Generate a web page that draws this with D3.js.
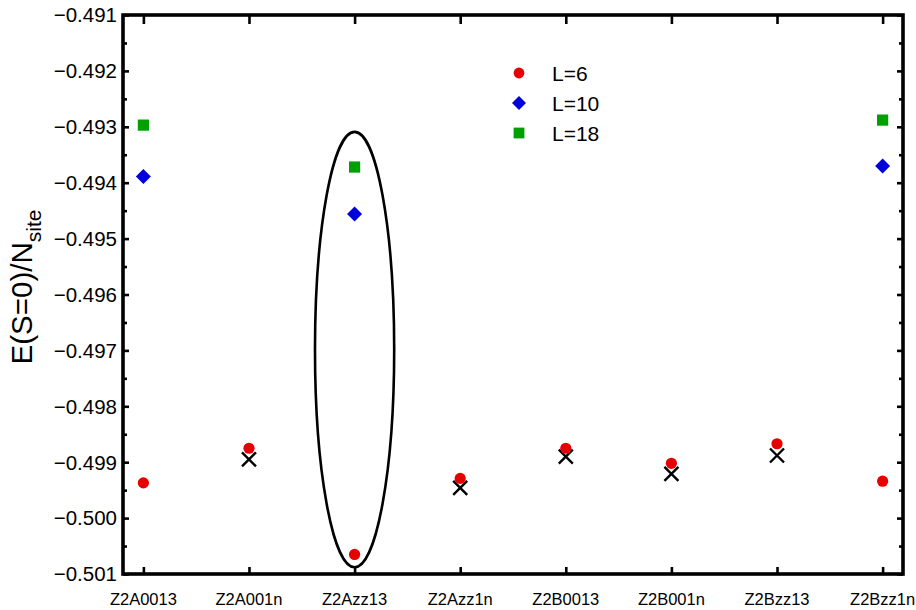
<!DOCTYPE html>
<html>
<head>
<meta charset="utf-8">
<script src="https://cdn.jsdelivr.net/npm/d3@7"></script>
<style>
  html, body { margin: 0; padding: 0; background: #fff; }
  svg { display: block; font-family: "Liberation Sans", Arial, Helvetica, sans-serif; }
</style>
</head>
<body>
<svg id="chart" width="916" height="610"></svg>
<script>
// Ground-state energy per site in the S=0 sector for each configuration
const categories = ["Z2A0013", "Z2A001n", "Z2Azz13", "Z2Azz1n", "Z2B0013", "Z2B001n", "Z2Bzz13", "Z2Bzz1n"];
const energyL6  = [-0.49937, -0.49875, -0.50065, -0.49929, -0.49875, -0.49902, -0.49867, -0.49934];
const energyL10 = [-0.49389, null, -0.49456, null, null, null, null, -0.49370];
const energyL18 = [-0.49297, null, -0.49372, null, null, null, null, -0.49288];
const energyRef = [null, -0.49895, null, -0.49946, -0.49890, -0.49921, -0.49888, null];
const yTicks = [-0.491, -0.492, -0.493, -0.494, -0.495, -0.496, -0.497, -0.498, -0.499, -0.500, -0.501];
const yMinorTicks = [-0.4915, -0.4925, -0.4935, -0.4945, -0.4955, -0.4965, -0.4975, -0.4985, -0.4995, -0.5005];
const legendLabels = ["L=6", "L=10", "L=18"];
// Highlighted configuration: vertical extent of the outline
const highlightCat = "Z2Azz13";
const highlightTop = -0.49309;
const highlightBottom = -0.50088;

const colors = { L6: "#e60000", L10: "#0000dd", L18: "#00a000", ref: "#000" };

const svg = d3.select("#chart");
const frame = { left: 123, right: 903, top: 15, bottom: 574 };

const x = d3.scalePoint().domain(categories).range([frame.left, frame.right]).padding(0.193);
const y = d3.scaleLinear().domain([-0.501, -0.491]).range([frame.bottom, frame.top]);

const fmt = v => "\u2212" + d3.format(".3f")(Math.abs(v));

// Axes with inward ticks
const gLeft = svg.append("g").attr("transform", `translate(${frame.left},0)`)
  .call(d3.axisRight(y).tickValues(yTicks).tickSize(6).tickFormat(""));
const gLeftMinor = svg.append("g").attr("transform", `translate(${frame.left},0)`)
  .call(d3.axisRight(y).tickValues(yMinorTicks).tickSize(4).tickFormat(""));
const gRight = svg.append("g").attr("transform", `translate(${frame.right},0)`)
  .call(d3.axisLeft(y).tickValues(yTicks).tickSize(6).tickFormat(""));
const gRightMinor = svg.append("g").attr("transform", `translate(${frame.right},0)`)
  .call(d3.axisLeft(y).tickValues(yMinorTicks).tickSize(4).tickFormat(""));
const gTop = svg.append("g").attr("transform", `translate(0,${frame.top})`)
  .call(d3.axisBottom(x).tickSize(9).tickFormat(""));
const gBottom = svg.append("g").attr("transform", `translate(0,${frame.bottom})`)
  .call(d3.axisTop(x).tickSize(7).tickFormat(""));

[gLeft, gLeftMinor, gRight, gRightMinor, gTop, gBottom].forEach(g => {
  g.select(".domain").remove();
  g.selectAll(".tick line").attr("stroke", "#000").attr("stroke-width", 2.6);
});

// Frame
svg.append("rect")
  .attr("x", frame.left).attr("y", frame.top)
  .attr("width", frame.right - frame.left).attr("height", frame.bottom - frame.top)
  .attr("fill", "none").attr("stroke", "#000").attr("stroke-width", 3.6);

// Y tick labels
svg.append("g").selectAll("text").data(yTicks).join("text")
  .attr("x", frame.left - 6).attr("y", d => y(d)).attr("dy", "0.36em")
  .attr("text-anchor", "end").attr("font-size", 20.5).attr("fill", "#000")
  .text(fmt);

// Category labels
svg.append("g").selectAll("text").data(categories).join("text")
  .attr("x", d => x(d)).attr("y", 604.5)
  .attr("text-anchor", "middle").attr("font-size", 16.5).attr("fill", "#000")
  .text(d => d);

// Axis title
const title = svg.append("text")
  .attr("transform", "translate(32,287) rotate(-90)")
  .attr("text-anchor", "middle").attr("font-size", 29.5).attr("fill", "#000");
title.append("tspan").text("E(S=0)/N");
title.append("tspan").attr("dy", 9).attr("font-size", 21).text("site");

// Highlight outline
const step = x.step();
svg.append("ellipse")
  .attr("cx", x(highlightCat))
  .attr("cy", (y(highlightTop) + y(highlightBottom)) / 2)
  .attr("rx", step * 0.375)
  .attr("ry", (y(highlightBottom) - y(highlightTop)) / 2)
  .attr("fill", "none").attr("stroke", "#000").attr("stroke-width", 2.6);

const pts = arr => categories.map((c, i) => ({ c, v: arr[i] })).filter(d => d.v !== null);

const diamond = d3.symbol().type(d3.symbolSquare).size(100);
const drawCircles = (g, data, color) => g.selectAll("circle").data(data).join("circle")
  .attr("cx", d => x(d.c)).attr("cy", d => y(d.v)).attr("r", 5.6).attr("fill", color);
const drawDiamonds = (g, data, color) => g.selectAll("path").data(data).join("path")
  .attr("d", "M0,-7.5L7.5,0L0,7.5L-7.5,0Z")
  .attr("transform", d => `translate(${x(d.c)},${y(d.v)})`).attr("fill", color);
const drawSquares = (g, data, color) => g.selectAll("rect").data(data).join("rect")
  .attr("x", d => x(d.c) - 5.6).attr("y", d => y(d.v) - 5.6)
  .attr("width", 11.2).attr("height", 11.2).attr("fill", color);

// Reference values (crosses)
svg.append("g").selectAll("path").data(pts(energyRef)).join("path")
  .attr("d", "M-7,-7L7,7M-7,7L7,-7")
  .attr("transform", d => `translate(${x(d.c)},${y(d.v)})`)
  .attr("stroke", colors.ref).attr("stroke-width", 2.4).attr("fill", "none");

drawCircles(svg.append("g"), pts(energyL6), colors.L6);
drawDiamonds(svg.append("g"), pts(energyL10), colors.L10);
drawSquares(svg.append("g"), pts(energyL18), colors.L18);

// Legend
const legend = svg.append("g").attr("transform", "translate(519,73)");
const rowH = 30;
legend.append("circle").attr("cx", 0).attr("cy", 0).attr("r", 5.4).attr("fill", colors.L6);
legend.append("path").attr("d", "M0,-7L7,0L0,7L-7,0Z").attr("transform", `translate(0,${rowH})`).attr("fill", colors.L10);
legend.append("rect").attr("x", -5.4).attr("y", 2 * rowH - 5.4).attr("width", 10.8).attr("height", 10.8).attr("fill", colors.L18);
legend.selectAll("text").data(legendLabels).join("text")
  .attr("x", 33).attr("y", (d, i) => i * rowH).attr("dy", "0.36em")
  .attr("font-size", 21).attr("fill", "#000").text(d => d);
</script>
</body>
</html>
